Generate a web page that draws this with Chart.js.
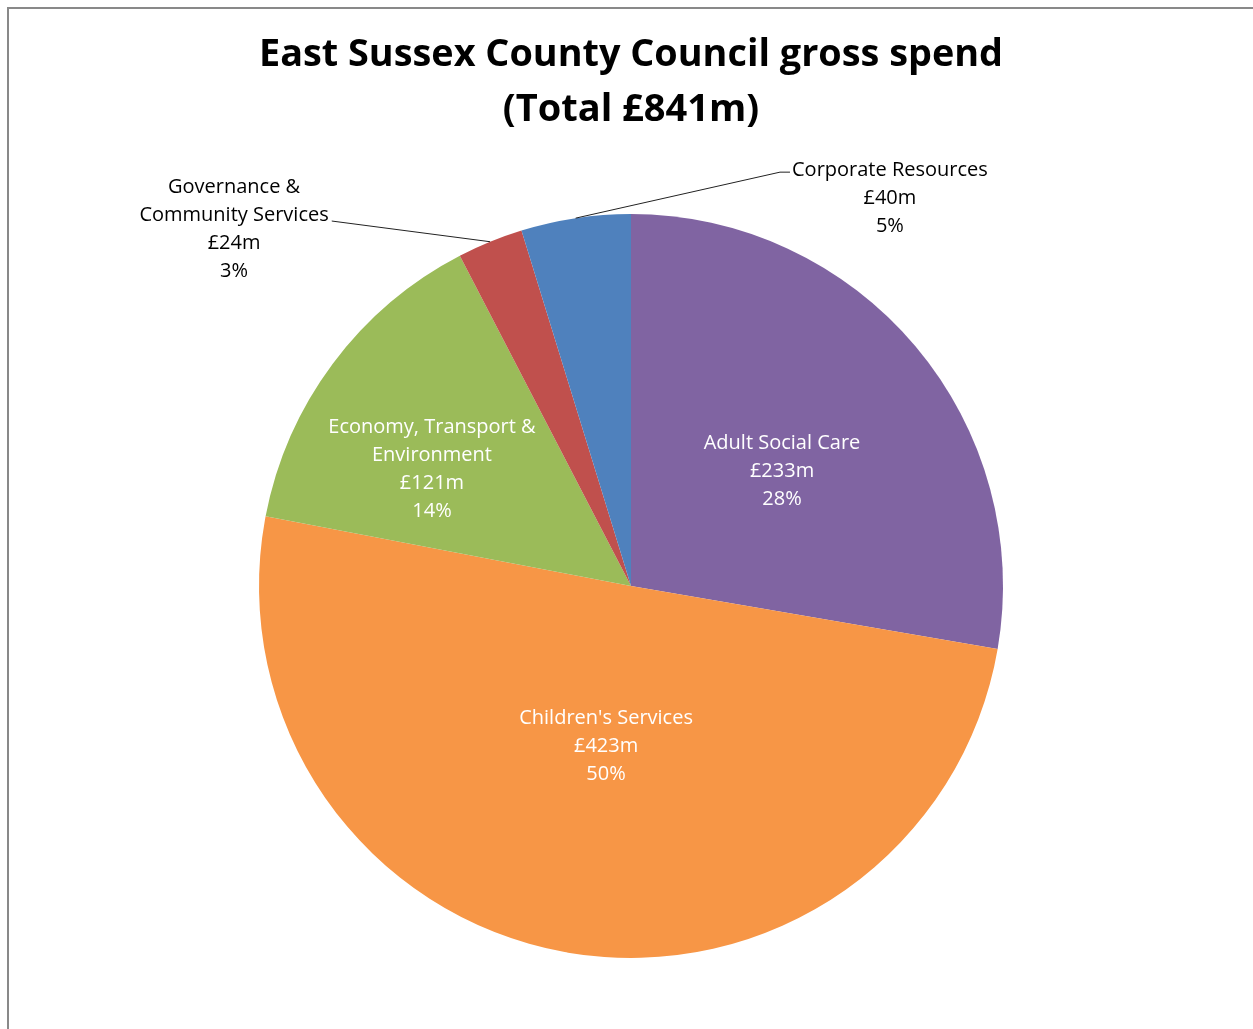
<!DOCTYPE html>
<html>
<head>
<meta charset="utf-8">
<title>East Sussex County Council gross spend</title>
<script src="https://cdn.jsdelivr.net/npm/chart.js@4/dist/chart.umd.min.js"></script>
<style>
    body { margin: 0; background: #fff; overflow: hidden; }
    .frame {
        position: absolute; left: 7px; top: 7px;
        width: 1400px; height: 1200px;
        border: 2px solid #898989;
    }
    .chart-box { position: absolute; left: 0; top: 0; width: 1253px; height: 1029px; }
</style>
</head>
<body>
<div class="frame"></div>
<div class="chart-box"><canvas id="spendChart"></canvas></div>
<script>
// spend by department, £m (clockwise from 12 o'clock)
const categories = [
    ["Adult Social Care"],
    ["Children's Services"],
    ["Economy, Transport &", "Environment"],
    ["Governance &", "Community Services"],
    ["Corporate Resources"]
];
const spend = [233, 423, 121, 24, 40];
const sliceColors = ["#8064A2", "#F79646", "#9BBB59", "#C0504D", "#4F81BD"];

const total = spend.reduce((a, b) => a + b, 0);

// where each label sits, in pie radii from the centre
const labelPlaces = [
    { dx: 0.406, dy: -0.315, color: "#fff" },
    { dx: -0.067, dy: 0.425, color: "#fff" },
    { dx: -0.535, dy: -0.320, color: "#fff" },
    { dx: -1.067, dy: -0.965, color: "#000", leader: "right" },
    { dx: 0.696, dy: -1.048, color: "#000", leader: "left" }
];

const sliceLabels = {
    id: "sliceLabels",
    afterDatasetsDraw(chart) {
        const ctx = chart.ctx;
        const arcs = chart.getDatasetMeta(0).data;
        const lineGap = 28;

        ctx.save();
        ctx.font = "20px 'Open Sans'";
        ctx.textAlign = "center";
        ctx.textBaseline = "middle";

        arcs.forEach((arc, i) => {
            const place = labelPlaces[i];
            const r = arc.outerRadius;
            const cx = arc.x + place.dx * r;
            const cy = arc.y + place.dy * r + 2;

            const pct = Math.round(spend[i] / total * 100);
            const lines = [...categories[i], "£" + spend[i] + "m", pct + "%"];
            const top = cy - (lines.length - 1) * lineGap / 2;

            ctx.fillStyle = place.color;
            lines.forEach((t, k) => ctx.fillText(t, cx, top + k * lineGap));

            if (place.leader) {
                const mid = (arc.startAngle + arc.endAngle) / 2;
                const ex = arc.x + Math.cos(mid) * r;
                const ey = arc.y + Math.sin(mid) * r;
                const nameLine = categories[i].length - 1;
                const w = ctx.measureText(categories[i][nameLine]).width;
                const ly = top + nameLine * lineGap + 6;

                ctx.strokeStyle = "#222";
                ctx.lineWidth = 1;
                ctx.beginPath();
                if (place.leader === "right") {
                    const sx = cx + w / 2 + 3;
                    ctx.moveTo(sx, ly);
                    ctx.lineTo(ex, ey);
                } else {
                    const sx = cx - w / 2 - 2;
                    ctx.moveTo(sx, ly - 4);
                    ctx.lineTo(sx - 10, ly - 4);
                    ctx.lineTo(ex, ey);
                }
                ctx.stroke();
            }
        });
        ctx.restore();
    }
};

new Chart(document.getElementById("spendChart"), {
    type: "pie",
    data: {
        labels: categories,
        datasets: [{
            data: spend,
            backgroundColor: sliceColors,
            borderWidth: 0
        }]
    },
    options: {
        responsive: true,
        maintainAspectRatio: false,
        animation: false,
        layout: {
            padding: { left: 259, right: 250, top: 0, bottom: 71 }
        },
        plugins: {
            legend: { display: false },
            tooltip: { enabled: false },
            title: {
                display: true,
                text: ["East Sussex County Council gross spend", "(Total £841m)"],
                color: "#000",
                font: { family: "'Open Sans'", size: 38, weight: "bold", lineHeight: "55px" },
                padding: { top: 27.5, bottom: 76.5 }
            }
        }
    },
    plugins: [sliceLabels]
});
</script>
</body>
</html>
